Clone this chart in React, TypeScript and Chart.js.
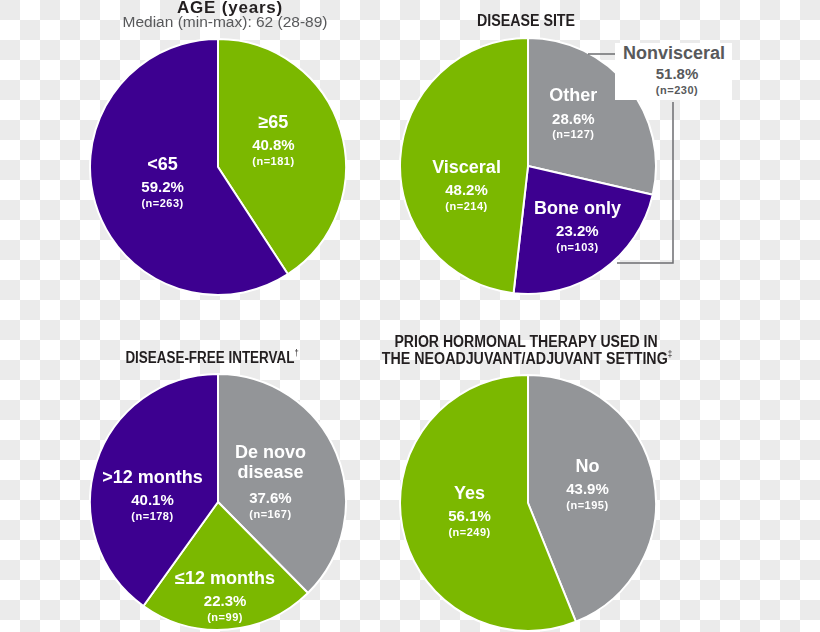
import React, { useEffect, useRef } from "react";
import { Chart, registerables } from "chart.js";

Chart.register(...registerables);

// ---------- data ----------
const ageLabels = ["≥65", "<65"];
const ageValues = [40.8, 59.2];
const ageCounts = [181, 263];

const siteLabels = ["Other", "Bone only", "Visceral"];
const siteValues = [28.6, 23.2, 48.2];
const siteCounts = [127, 103, 214];

const dfiLabels = ["De novo\ndisease", "≤12 months", ">12 months"];
const dfiValues = [37.6, 22.3, 40.1];
const dfiCounts = [167, 99, 178];

const hormLabels = ["No", "Yes"];
const hormValues = [43.9, 56.1];
const hormCounts = [195, 249];

const nonvisceralLabel = "Nonvisceral";
const nonvisceralValue = 51.8;
const nonvisceralCount = 230;

// ---------- style ----------
const PURPLE = "#3d0090";
const GREEN = "#7bb800";
const GRAY = "#939598";
const DARK = "#231f20";
const MIDGRAY = "#58595b";
const LABEL_FONT = '"Liberation Sans", Arial, sans-serif';
const TITLE_FONT = '"Liberation Sans", Arial, sans-serif';

type PieSpec = {
  labels: string[];
  values: number[];
  counts: number[];
  colors: string[];
  cx: number;
  cy: number;
  offsets: [number, number][];
};

const pies: PieSpec[] = [
  {
    labels: ageLabels, values: ageValues, counts: ageCounts,
    colors: [GREEN, PURPLE], cx: 218, cy: 167,
    offsets: [[55, -44], [-55, -2]],
  },
  {
    labels: siteLabels, values: siteValues, counts: siteCounts,
    colors: [GRAY, PURPLE, GREEN], cx: 528, cy: 166,
    offsets: [[45, -69], [49, 43], [-61, 2]],
  },
  {
    labels: dfiLabels, values: dfiValues, counts: dfiCounts,
    colors: [GRAY, GREEN, PURPLE], cx: 218, cy: 502,
    offsets: [[52, -49], [7, 76], [-65, -24]],
  },
  {
    labels: hormLabels, values: hormValues, counts: hormCounts,
    colors: [GRAY, GREEN], cx: 528, cy: 503,
    offsets: [[59, -36], [-58, -9]],
  },
];

const SIZE = 258;

const sliceLabelPlugin = {
  id: "sliceLabels",
  afterDatasetsDraw(chart: any, _args: any, opts: any) {
    const spec: PieSpec = opts.spec;
    const meta = chart.getDatasetMeta(0);
    const arc = meta.data[0];
    if (!arc) return;
    const { x, y, outerRadius } = arc.getProps(["x", "y", "outerRadius"], true);
    const k = outerRadius / 127;
    const ctx = chart.ctx;
    ctx.save();
    ctx.fillStyle = "#ffffff";
    ctx.textAlign = "center";
    ctx.textBaseline = "middle";
    spec.labels.forEach((lab, i) => {
      const [dx, dy] = spec.offsets[i];
      const px = x + dx * k;
      let py = y + dy * k;
      const lines = lab.split("\n");
      ctx.font = `bold 18px ${LABEL_FONT}`;
      lines.forEach((ln, j) => {
        if (j > 0) py += 20;
        ctx.fillText(ln, px, py);
      });
      py += lines.length > 1 ? 26 : 23;
      ctx.font = `bold 15px ${LABEL_FONT}`;
      ctx.fillText(`${spec.values[i].toFixed(1)}%`, px, py);
      py += 16;
      ctx.font = `bold 11px ${LABEL_FONT}`;
      (ctx as any).letterSpacing = "0.5px";
      ctx.fillText(`(n=${spec.counts[i]})`, px, py);
      (ctx as any).letterSpacing = "0px";
    });
    ctx.restore();
  },
};

function Pie({ spec }: { spec: PieSpec }) {
  const ref = useRef<HTMLCanvasElement | null>(null);
  useEffect(() => {
    if (!ref.current) return;
    const chart = new Chart(ref.current, {
      type: "pie",
      data: {
        labels: spec.labels.map((l) => l.replace("\n", " ")),
        datasets: [
          {
            data: spec.values,
            backgroundColor: spec.colors,
            borderColor: "#ffffff",
            borderWidth: 2,
          },
        ],
      },
      options: {
        animation: false,
        responsive: false,
        maintainAspectRatio: false,
        layout: { padding: 0 },
        plugins: {
          legend: { display: false },
          tooltip: { enabled: false },
          sliceLabels: { spec },
        } as any,
      },
      plugins: [sliceLabelPlugin],
    });
    return () => chart.destroy();
  }, [spec]);
  return (
    <canvas
      ref={ref}
      width={SIZE}
      height={SIZE}
      style={{
        position: "absolute",
        left: spec.cx - SIZE / 2,
        top: spec.cy - SIZE / 2,
        width: SIZE,
        height: SIZE,
      }}
    />
  );
}

function T({
  x, y, children, size, weight = 700, color = DARK, font = TITLE_FONT, ls = 0, sx = 1,
}: {
  x: number; y: number; children: React.ReactNode; size: number; weight?: number;
  color?: string; font?: string; ls?: number; sx?: number;
}) {
  return (
    <div
      style={{
        position: "absolute",
        left: x,
        top: y,
        transform: `translate(-50%, -50%) scaleX(${sx})`,
        whiteSpace: "nowrap",
        fontFamily: font,
        fontSize: size,
        fontWeight: weight,
        color,
        lineHeight: 1,
        letterSpacing: ls,
      }}
    >
      {children}
    </div>
  );
}

const supStyle: React.CSSProperties = { fontSize: 9, verticalAlign: "top", fontWeight: 400, position: "relative", top: -1 };

export default function App() {
  useEffect(() => {
    document.body.style.margin = "0";
  }, []);
  return (
    <div
      style={{
        position: "fixed",
        left: 0,
        top: 0,
        width: 820,
        height: 632,
        overflow: "hidden",
        background: "repeating-conic-gradient(#ffffff 0% 25%, #ebebeb 0% 50%) 0 0 / 40px 40px",
      }}
    >
      {pies.map((p, i) => (
        <Pie key={i} spec={p} />
      ))}

      <T x={230} y={7} size={17} ls={0.8}>AGE (years)</T>
      <T x={225} y={22} size={15.5} weight={400} color={MIDGRAY}>
        Median (min-max): 62 (28-89)
      </T>
      <T x={526} y={21} size={16} sx={0.89}>DISEASE SITE</T>
      <T x={212} y={358} size={16} sx={0.84}>
        DISEASE-FREE INTERVAL<sup style={supStyle}>†</sup>
      </T>
      <T x={526} y={342} size={16} sx={0.88}>PRIOR HORMONAL THERAPY USED IN</T>
      <T x={527} y={359} size={16} sx={0.89}>
        THE NEOADJUVANT/ADJUVANT SETTING<sup style={supStyle}>‡</sup>
      </T>

      <svg
        width={820}
        height={632}
        style={{ position: "absolute", left: 0, top: 0, pointerEvents: "none" }}
      >
        <rect x={615} y={43} width={117} height={57} fill="#ffffff" />
        <g stroke="#6d6e71" strokeWidth={1.5} fill="none">
          <line x1={588} y1={54} x2={615} y2={54} />
          <polyline points="673,102 673,263 617,263" />
        </g>
      </svg>
      <T x={674} y={53} size={18} color={MIDGRAY}>{nonvisceralLabel}</T>
      <T x={677} y={73} size={15} color={MIDGRAY}>{`${nonvisceralValue.toFixed(1)}%`}</T>
      <T x={677} y={90} size={11} color={MIDGRAY} ls={0.5}>{`(n=${nonvisceralCount})`}</T>
    </div>
  );
}
